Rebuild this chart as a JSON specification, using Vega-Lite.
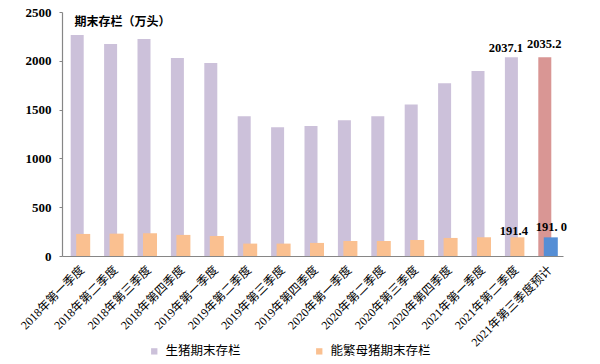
{
  "$schema": "https://vega.github.io/schema/vega-lite/v6.json",
  "width": 501,
  "height": 244,
  "autosize": {"type": "none"},
  "padding": {"left": 62, "top": 12, "right": 37, "bottom": 108},
  "background": "white",
  "config": {
    "view": {"stroke": null},
    "font": "Liberation Serif, Noto Sans CJK SC",
    "axis": {"grid": false}
  },
  "data": {
    "values": [
      {"cat": "2018年第一季度", "series": "生猪期末存栏", "group": "生猪期末存栏", "value": 2265, "label": ""},
      {"cat": "2018年第二季度", "series": "生猪期末存栏", "group": "生猪期末存栏", "value": 2173, "label": ""},
      {"cat": "2018年第三季度", "series": "生猪期末存栏", "group": "生猪期末存栏", "value": 2224, "label": ""},
      {"cat": "2018年第四季度", "series": "生猪期末存栏", "group": "生猪期末存栏", "value": 2029, "label": ""},
      {"cat": "2019年第一季度", "series": "生猪期末存栏", "group": "生猪期末存栏", "value": 1978, "label": ""},
      {"cat": "2019年第二季度", "series": "生猪期末存栏", "group": "生猪期末存栏", "value": 1433, "label": ""},
      {"cat": "2019年第三季度", "series": "生猪期末存栏", "group": "生猪期末存栏", "value": 1320, "label": ""},
      {"cat": "2019年第四季度", "series": "生猪期末存栏", "group": "生猪期末存栏", "value": 1333, "label": ""},
      {"cat": "2020年第一季度", "series": "生猪期末存栏", "group": "生猪期末存栏", "value": 1392, "label": ""},
      {"cat": "2020年第二季度", "series": "生猪期末存栏", "group": "生猪期末存栏", "value": 1433, "label": ""},
      {"cat": "2020年第三季度", "series": "生猪期末存栏", "group": "生猪期末存栏", "value": 1553, "label": ""},
      {"cat": "2020年第四季度", "series": "生猪期末存栏", "group": "生猪期末存栏", "value": 1769, "label": ""},
      {"cat": "2021年第一季度", "series": "生猪期末存栏", "group": "生猪期末存栏", "value": 1895, "label": ""},
      {"cat": "2021年第二季度", "series": "生猪期末存栏", "group": "生猪期末存栏", "value": 2037.1, "label": "2037.1"},
      {"cat": "2021年第三季度预计", "series": "生猪期末存栏", "group": "生猪预计", "value": 2035.2, "label": "2035.2"},
      {"cat": "2018年第一季度", "series": "能繁母猪期末存栏", "group": "能繁母猪期末存栏", "value": 226, "label": ""},
      {"cat": "2018年第二季度", "series": "能繁母猪期末存栏", "group": "能繁母猪期末存栏", "value": 229, "label": ""},
      {"cat": "2018年第三季度", "series": "能繁母猪期末存栏", "group": "能繁母猪期末存栏", "value": 233, "label": ""},
      {"cat": "2018年第四季度", "series": "能繁母猪期末存栏", "group": "能繁母猪期末存栏", "value": 216, "label": ""},
      {"cat": "2019年第一季度", "series": "能繁母猪期末存栏", "group": "能繁母猪期末存栏", "value": 205, "label": ""},
      {"cat": "2019年第二季度", "series": "能繁母猪期末存栏", "group": "能繁母猪期末存栏", "value": 127, "label": ""},
      {"cat": "2019年第三季度", "series": "能繁母猪期末存栏", "group": "能繁母猪期末存栏", "value": 127, "label": ""},
      {"cat": "2019年第四季度", "series": "能繁母猪期末存栏", "group": "能繁母猪期末存栏", "value": 134, "label": ""},
      {"cat": "2020年第一季度", "series": "能繁母猪期末存栏", "group": "能繁母猪期末存栏", "value": 154, "label": ""},
      {"cat": "2020年第二季度", "series": "能繁母猪期末存栏", "group": "能繁母猪期末存栏", "value": 154, "label": ""},
      {"cat": "2020年第三季度", "series": "能繁母猪期末存栏", "group": "能繁母猪期末存栏", "value": 164, "label": ""},
      {"cat": "2020年第四季度", "series": "能繁母猪期末存栏", "group": "能繁母猪期末存栏", "value": 185, "label": ""},
      {"cat": "2021年第一季度", "series": "能繁母猪期末存栏", "group": "能繁母猪期末存栏", "value": 192, "label": ""},
      {"cat": "2021年第二季度", "series": "能繁母猪期末存栏", "group": "能繁母猪期末存栏", "value": 191.4, "label": "191.4"},
      {"cat": "2021年第三季度预计", "series": "能繁母猪期末存栏", "group": "能繁母猪预计", "value": 191.0, "label": "191. 0"}
    ]
  },
  "encoding": {
    "x": {
      "field": "cat", "type": "nominal", "sort": null,
      "scale": {"paddingInner": 0, "paddingOuter": 0},
      "axis": {
        "title": null, "labelAngle": -45, "labelAlign": "right", "labelBaseline": "top",
        "labelPadding": 8, "ticks": false, "domainColor": "#868686", "domainWidth": 1.2,
        "labelFontSize": 12, "labelColor": "#000000", "labelFont": "Liberation Serif, Noto Sans CJK SC"
      }
    },
    "y": {
      "field": "value", "type": "quantitative",
      "scale": {"domain": [0, 2500], "nice": false},
      "axis": {
        "values": [0, 500, 1000, 1500, 2000, 2500], "format": "d",
        "title": "期末存栏（万头）", "titleAngle": 0, "titleAlign": "left", "titleBaseline": "middle",
        "titleX": 12, "titleY": 9, "titleFontSize": 12, "titleFontWeight": "bold", "titleColor": "#000000",
        "titleFont": "Noto Sans CJK SC",
        "labelFontSize": 13, "labelFontWeight": "bold", "labelColor": "#000000", "labelPadding": 8,
        "labelFont": "Liberation Serif",
        "tickSize": 3, "tickColor": "#868686", "domainColor": "#868686", "domainWidth": 1.2
      }
    }
  },
  "layer": [
    {
      "transform": [{"filter": "datum.series === '生猪期末存栏'"}],
      "mark": {"type": "bar", "width": 13, "xOffset": -1.5},
      "encoding": {
        "color": {
          "field": "group", "type": "nominal",
          "scale": {
            "domain": ["生猪期末存栏", "能繁母猪期末存栏", "生猪预计", "能繁母猪预计"],
            "range": ["#CCC1DA", "#FAC090", "#D99694", "#558ED5"]
          },
          "legend": {
            "values": ["生猪期末存栏", "能繁母猪期末存栏"],
            "title": null, "orient": "none", "direction": "horizontal",
            "legendX": 86, "legendY": 333,
            "symbolType": "square", "symbolSize": 40, "symbolStrokeWidth": 0,
            "labelFontSize": 12.5, "labelFont": "Noto Sans CJK SC", "labelColor": "#000000",
            "columnPadding": 72, "labelOffset": 5
          }
        }
      }
    },
    {
      "transform": [{"filter": "datum.series === '能繁母猪期末存栏'"}],
      "mark": {"type": "bar", "width": 14, "xOffset": 4.5},
      "encoding": {
        "color": {"field": "group", "type": "nominal"}
      }
    },
    {
      "transform": [{"filter": "datum.series === '生猪期末存栏' && datum.cat === '2021年第二季度'"}],
      "mark": {"type": "text", "xOffset": -7, "dy": -5, "baseline": "alphabetic", "fontSize": 12.5, "fontWeight": "bold", "font": "Liberation Serif", "color": "#000000"},
      "encoding": {"text": {"field": "label"}}
    },
    {
      "transform": [{"filter": "datum.series === '生猪期末存栏' && datum.cat === '2021年第三季度预计'"}],
      "mark": {"type": "text", "xOffset": -2, "dy": -9, "baseline": "alphabetic", "fontSize": 12.5, "fontWeight": "bold", "font": "Liberation Serif", "color": "#000000"},
      "encoding": {"text": {"field": "label"}}
    },
    {
      "transform": [{"filter": "datum.series === '能繁母猪期末存栏' && datum.cat === '2021年第二季度'"}],
      "mark": {"type": "text", "xOffset": 1, "dy": -2, "baseline": "alphabetic", "fontSize": 12.5, "fontWeight": "bold", "font": "Liberation Serif", "color": "#000000"},
      "encoding": {"text": {"field": "label"}}
    },
    {
      "transform": [{"filter": "datum.series === '能繁母猪期末存栏' && datum.cat === '2021年第三季度预计'"}],
      "mark": {"type": "text", "xOffset": 5, "dy": -6, "baseline": "alphabetic", "fontSize": 12.5, "fontWeight": "bold", "font": "Liberation Serif", "color": "#000000"},
      "encoding": {"text": {"field": "label"}}
    }
  ]
}
